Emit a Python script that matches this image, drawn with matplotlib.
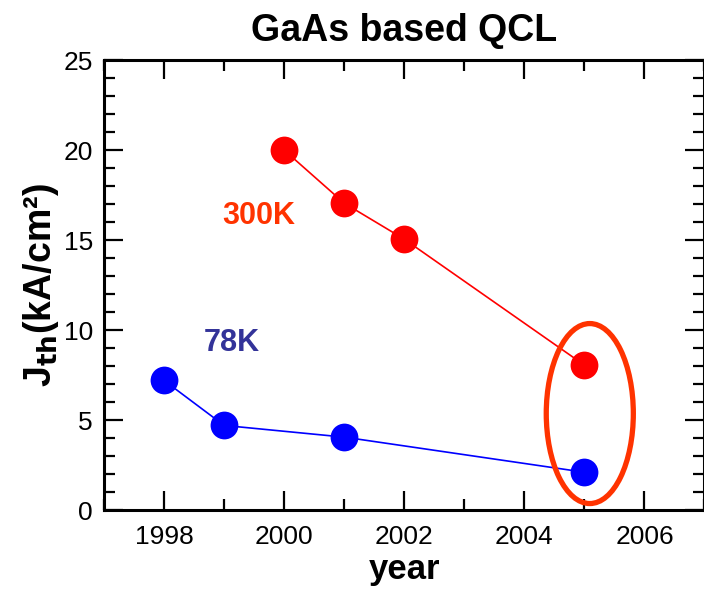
import matplotlib
matplotlib.use("Agg")
import matplotlib.pyplot as plt
from matplotlib.patches import Ellipse
from matplotlib.ticker import MultipleLocator

plt.rcParams['font.family'] = ['Liberation Sans', 'DejaVu Sans']

# Threshold current density of GaAs-based QCLs by year
years_78k = [1998, 1999, 2001, 2005]
jth_78k = [7.2, 4.7, 4.05, 2.1]
years_300k = [2000, 2001, 2002, 2005]
jth_300k = [20.0, 17.05, 15.05, 8.05]

fig = plt.figure(figsize=(7.04, 5.89), dpi=100)
ax = fig.add_axes([0.1477, 0.1341, 0.853, 0.7639])

ax.plot(years_300k, jth_300k, color='#ff0000', lw=1.2, marker='o',
        markersize=20, markeredgewidth=0, zorder=3)
ax.plot(years_78k, jth_78k, color='#0000ff', lw=1.2, marker='o',
        markersize=20, markeredgewidth=0, zorder=3)

ax.text(1999.57, 16.33, '300K', color='#ff3300', fontsize=22,
        fontweight='bold', ha='center', va='center')
ax.text(1999.13, 9.3, '78K', color='#333399', fontsize=22,
        fontweight='bold', ha='center', va='center')

# highlight the most recent results
ax.add_patch(Ellipse((2005.09, 5.36), 1.45, 10.0, fill=False,
                     edgecolor='#ff3300', lw=3.8, zorder=4))

ax.set_xlim(1997, 2007)
ax.set_ylim(0, 25)
ax.xaxis.set_major_locator(MultipleLocator(2))
ax.xaxis.set_minor_locator(MultipleLocator(1))
ax.yaxis.set_major_locator(MultipleLocator(5))
ax.yaxis.set_minor_locator(MultipleLocator(1))
ax.tick_params(which='both', direction='in', top=True, right=True,
               width=1.6, labelsize=19)
ax.tick_params(axis='x', which='both', pad=11)
ax.tick_params(axis='y', which='both', pad=8)
ax.tick_params(which='major', length=14)
ax.tick_params(which='minor', length=8)
ax.xaxis.set_tick_params(which='both', labeltop=False)
ax.yaxis.set_tick_params(which='both', labelright=False)
for s in ax.spines.values():
    s.set_linewidth(2.2)

ax.set_title('GaAs based QCL', fontsize=27, fontweight='bold', pad=14)
ax.set_xlabel('year', fontsize=25, fontweight='bold', labelpad=3)
ax.set_ylabel(r'J$_{\mathbf{th}}$(kA/cm²)', fontsize=27, fontweight='bold',
              labelpad=2)

fig.savefig('out.png', dpi=100)
